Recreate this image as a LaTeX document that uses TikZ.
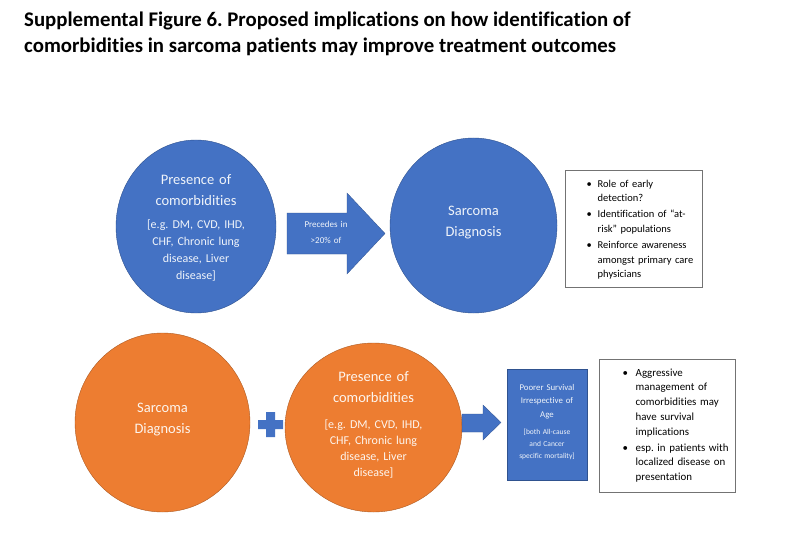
\documentclass[tikz,border=0pt]{standalone}
\usepackage{fontspec}
\setmainfont{Carlito}[Ligatures=NoCommon]
\usetikzlibrary{shapes.geometric}
\definecolor{obl}{HTML}{4472C4}
\definecolor{oblline}{HTML}{2F528F}
\definecolor{oor}{HTML}{ED7D31}
\definecolor{oorline}{HTML}{AE5A21}
\frenchspacing
\newcommand{\bitem}[2][11pt]{\par\noindent\makebox[#1][l]{\textbullet}\begin{tabular}[t]{@{}l@{}}#2\end{tabular}\par}
\tikzset{
  bluecirc/.style={ellipse, fill=obl, draw=oblline, line width=0.4pt, inner sep=0pt},
  orcirc/.style={ellipse, fill=oor, draw=oorline, line width=0.4pt, inner sep=0pt},
  ctext/.style={text=white!92!obl, align=center, inner sep=0pt, text width=130pt},
  headtxt/.style={ctext, font=\fontsize{14.5}{21}\selectfont},
  subtxt/.style={ctext, font=\fontsize{12}{16.8}\selectfont},
  blockarrow/.style={fill=obl, draw=oblline, line width=0.3pt},
  notebox/.style={draw=black!55, line width=0.8pt, fill=white, anchor=north west, inner sep=0pt},
  notetxt/.style={anchor=north west, inner sep=0pt},
  titletxt/.style={font=\bfseries\fontsize{20.8}{26}\selectfont, anchor=base west, inner sep=0pt},
}
\begin{document}
\begin{tikzpicture}[x=1pt,y=-1pt]
\useasboundingbox[fill=white] (0,0) rectangle (794,540);
% title
\node[titletxt] (ti1) at (24,26.7) {Supplemental Figure 6. Proposed implications on how identification of};
\node[titletxt] (ti2) at (24,53) {comorbidities in sarcoma patients may improve treatment outcomes};

% top row
\node[bluecirc, minimum width=160pt, minimum height=173pt] (c1) at (196,226.5) {};
\node[headtxt] (c1h) at (196,190.5) {Presence of\\comorbidities};
\node[subtxt] (c1s) at (196,250.5) {[e.g. DM, CVD, IHD,\\CHF, Chronic lung\\disease, Liver\\disease]};

\fill[blockarrow] (287,213) -- (347,213) -- (347,193) -- (385,233.5) -- (347,274) -- (347,254) -- (287,254) -- cycle;
\node[ctext, text width=60pt, font=\fontsize{9}{16}\selectfont] (a1t) at (326,232.5) {Precedes in\\>20\% of};

\node[bluecirc, minimum width=167pt, minimum height=175pt] (c2) at (473.5,225.5) {};
\node[headtxt] (c2t) at (473.5,222.5) {Sarcoma\\Diagnosis};

\node[notebox, minimum width=137pt, minimum height=117pt] (n1) at (565,170) {};
\node[notetxt, text width=120pt, font=\fontsize{10.5}{14.8}\selectfont] (n1t) at (586.5,172) {%
  \bitem{Role of early\\detection?}
  \bitem{Identification of ``at-\\risk'' populations}
  \bitem{Reinforce awareness\\amongst primary care\\physicians}};

% bottom row
\node[orcirc, minimum width=175pt, minimum height=179pt] (o1) at (162.5,422.5) {};
\node[headtxt, text=white!92!oor] (o1t) at (162.5,419.5) {Sarcoma\\Diagnosis};

\fill[obl] (266,412) rectangle (275,437) (258,420) rectangle (283,429);
\coordinate (plus) at (270.5,424.5);

\node[orcirc, minimum width=177pt, minimum height=169pt] (o2) at (373.5,427.5) {};
\node[headtxt, text=white!92!oor] (o2h) at (373.5,387.5) {Presence of\\comorbidities};
\node[subtxt, text=white!92!oor, font=\fontsize{12}{16}\selectfont] (o2s) at (373.5,449) {[e.g. DM, CVD, IHD,\\CHF, Chronic lung\\disease, Liver\\disease]};

\fill[blockarrow] (462,414) -- (483,414) -- (483,405) -- (501,422.5) -- (483,440) -- (483,432) -- (462,432) -- cycle;

\node[fill=obl, draw=oblline, line width=0.3pt, anchor=north west, minimum width=80pt, minimum height=111pt, inner sep=0pt] (r1) at (507,369) {};
\node[ctext, text width=78pt, font=\fontsize{8.8}{13.5}\selectfont] (r1h) at (547,401.5) {Poorer Survival\\Irrespective of\\Age};
\node[ctext, text width=78pt, font=\fontsize{7.5}{12}\selectfont] (r1s) at (547,444) {[both All-cause\\and Cancer\\specific mortality]};

\node[notebox, minimum width=136pt, minimum height=133pt] (n2) at (599,359) {};
\node[notetxt, text width=120pt, font=\fontsize{10.9}{14.8}\selectfont] (n2t) at (622.5,361) {%
  \bitem[13pt]{Aggressive\\management of\\comorbidities may\\have survival\\implications}
  \bitem[13pt]{esp. in patients with\\localized disease on\\presentation}};
\end{tikzpicture}
\end{document}
